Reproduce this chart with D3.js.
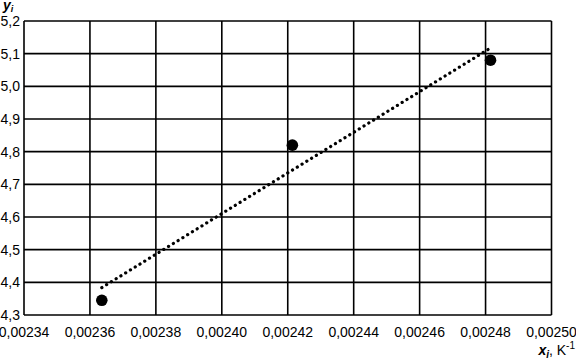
<!DOCTYPE html>
<html>
<head>
<meta charset="utf-8">
<script src="https://cdn.jsdelivr.net/npm/d3@7"></script>
<style>
  body { margin: 0; background: #fff; }
  text { font-family: "Liberation Sans", Arial, sans-serif; fill: #000; }
</style>
</head>
<body>
<script>
const w = 576;
const h = 361;

// measured points
const xValues = [0.0023636, 0.0024214, 0.0024815];
const yValues = [4.345, 4.82, 5.08];

const xTicks = [0.00234, 0.00236, 0.00238, 0.00240, 0.00242, 0.00244, 0.00246, 0.00248, 0.00250];
const yTicks = [4.3, 4.4, 4.5, 4.6, 4.7, 4.8, 4.9, 5.0, 5.1, 5.2];

const fmtX = d => d.toFixed(5).replace(".", ",");
const fmtY = d => d.toFixed(1).replace(".", ",");

const svg = d3.select("body")
              .append("svg")
              .attr("width", w)
              .attr("height", h);

const xScale = d3.scaleLinear()
    .domain([0.00234, 0.00250])
    .range([24, 551.5]);

const yScale = d3.scaleLinear()
    .domain([4.3, 5.2])
    .range([315, 21]);

// grid
svg.append("g")
    .selectAll("line")
    .data(xTicks)
    .join("line")
    .attr("x1", d => xScale(d)).attr("x2", d => xScale(d))
    .attr("y1", yScale(4.3)).attr("y2", yScale(5.2))
    .attr("stroke", "#000")
    .attr("stroke-width", 1.6);

svg.append("g")
    .selectAll("line")
    .data(yTicks)
    .join("line")
    .attr("x1", xScale(0.00234)).attr("x2", xScale(0.00250))
    .attr("y1", d => yScale(d)).attr("y2", d => yScale(d))
    .attr("stroke", "#000")
    .attr("stroke-width", 1.6);

// tick labels
svg.append("g")
    .selectAll("text")
    .data(yTicks)
    .join("text")
    .attr("x", 20)
    .attr("y", d => yScale(d))
    .attr("dy", "0.36em")
    .attr("text-anchor", "end")
    .attr("font-size", 14)
    .text(fmtY);

svg.append("g")
    .selectAll("text")
    .data(xTicks)
    .join("text")
    .attr("x", d => xScale(d))
    .attr("y", 332)
    .attr("dy", "0.36em")
    .attr("text-anchor", "middle")
    .attr("font-size", 14)
    .text(fmtX);

// least squares line
const mx = d3.mean(xValues), my = d3.mean(yValues);
const slope = d3.sum(xValues, (x, i) => (x - mx) * (yValues[i] - my)) /
              d3.sum(xValues, x => (x - mx) * (x - mx));
const fit = x => my + slope * (x - mx);
const ends = d3.extent(xValues);

svg.append("path")
    .datum(ends)
    .attr("fill", "none")
    .attr("stroke", "#000")
    .attr("stroke-width", 3.2)
    .attr("stroke-linecap", "round")
    .attr("stroke-dasharray", "0.1,5.5")
    .attr("d", d3.line()
        .x(d => xScale(d))
        .y(d => yScale(fit(d))));

// points
svg.append("g")
    .selectAll("circle")
    .data(xValues)
    .join("circle")
    .attr("cx", d => xScale(d))
    .attr("cy", (d, i) => yScale(yValues[i]))
    .attr("r", 5.8)
    .attr("fill", "#000");

// axis titles
const yt = svg.append("text")
    .attr("x", 3)
    .attr("y", 10)
    .attr("font-size", 14)
    .attr("font-weight", "bold")
    .attr("font-style", "italic");
yt.append("tspan").text("y");
yt.append("tspan").attr("font-size", 9).attr("dy", 2).text("i");

const xt = svg.append("text")
    .attr("x", 575)
    .attr("y", 355)
    .attr("text-anchor", "end")
    .attr("font-size", 14);
xt.append("tspan").attr("font-weight", "bold").attr("font-style", "italic").text("x");
xt.append("tspan").attr("font-weight", "bold").attr("font-style", "italic").attr("font-size", 10).attr("dy", 3).text("i");
xt.append("tspan").attr("dy", -3).text(", K");
xt.append("tspan").attr("font-size", 10).attr("dy", -6).text("-1");
</script>
</body>
</html>
